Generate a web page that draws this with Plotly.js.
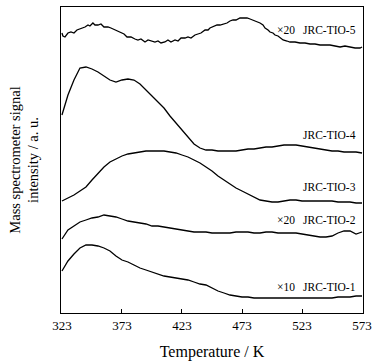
<!DOCTYPE html>
<html>
<head>
<meta charset="utf-8">
<script src="https://cdn.plot.ly/plotly-3.0.1.min.js"></script>
<style>html,body{margin:0;padding:0;background:#fff;}#chart{width:391px;height:363px;}</style>
</head>
<body>
<div id="chart"></div>
<script>
// Temperature grid (K)
const temperature = [323,328,333,338,343,348,353,358,363,368,373,378,383,388,393,398,403,408,413,418,423,428,433,438,443,448,453,458,463,468,473,478,483,488,493,498,503,508,513,518,523,528,533,538,543,548,553,558,563,568,573];
// Finer temperature points read for the noisy JRC-TIO-5 trace (K)
const temperature5 = [323,323.8,325.5,327.2,328,330.5,333,335.5,338,339.7,342.2,344.7,346.3,348.8,350.5,353,355.5,358,361.3,363.8,367.2,369.7,373,374.7,377.2,380.5,383.8,386.3,388.8,392.2,394.7,397.2,400.5,403,405.5,408.8,411.3,413.8,417.2,419.7,422.2,425.5,428,430.5,433.8,436.3,438.8,442.2,444.7,446.3,448.8,452.2,454.7,458,460.5,463,465.5,468,471.3,473.8,477.2,479.7,482.2,484.7,488,490.5,492.2,494.7,496.3,498.8,500.5,503,504.7,507.2,510.5,513,517.2,521.3,525.5,529.7,533.8,538,542.2,546.3,550.5,554.7,558.8,563,567.2,571.3,573];

// Signal intensities (a.u., curves offset vertically as in the figure)
const tio5 = [280,277,276,279,280,281,280,283,284,285,286,288,287,290,288,288,289,286,286,285,283,282,280,279,276,276,274,273,274,271,273,272,271,272,270,271,273,271,273,272,275,275,276,275,278,279,280,283,283,285,286,288,288,289,290,292,293,293,295,295,295,294,293,292,290,288,285,283,281,280,278,277,275,273,272,271,271,270,270,269,269,268,268,268,267,266,267,266,265,265,266];
const tio4 = [198,218,233,245,246,244,241,237,233,231,233,234,233,229,223,218,212,205,197,190,182,175,169,165,163,163,162,162,162,162,163,164,164,165,166,166,167,168,168,168,167,166,165,164,163,162,162,161,161,161,160];
const tio3 = [112,115,118,122,126,133,140,146,151,154,157,159,160,161,162,162,162,162,161,160,158,156,153,150,146,142,137,133,129,125,122,119,116,113,112,111,111,112,113,113,112,112,112,112,112,112,111,111,111,110,110];
const tio2 = [74,83,87,91,93,95,96,98,97,96,94,92,91,90,89,87,87,86,85,84,83,82,81,81,81,80,80,80,80,81,81,81,80,80,81,81,80,80,80,80,79,78,77,76,76,77,80,82,82,79,81];
const tio1 = [42,52,59,65,68,68,67,65,62,57,53,51,48,45,43,41,39,37,36,35,34,33,31,29,28,25,22,20,18,17,16,16,15,15,15,15,15,15,15,15,15,15,15,15,15,15,16,16,16,17,17];

const seriesNames = ['JRC-TIO-5','JRC-TIO-4','JRC-TIO-3','JRC-TIO-2','JRC-TIO-1'];
const seriesX = [temperature5, temperature, temperature, temperature, temperature];
const seriesData = [tio5, tio4, tio3, tio2, tio1];
const factors = ['×20', '', '', '×20', '×10'];
const labelY = [283, 178, 126, 93, 26];
const tickVals = [323,373,423,473,523,573];

const FONT = 'Liberation Serif, Times New Roman, serif';

const traces = seriesData.map((d, i) => ({
  x: seriesX[i], y: d, type: 'scatter', mode: 'lines', name: seriesNames[i],
  line: {color: '#000', width: 1.3, shape: 'linear'}, hoverinfo: 'skip'
}));

const annotations = [];
seriesNames.forEach((n, i) => {
  annotations.push({x: 570, y: labelY[i], xref: 'x', yref: 'y', text: n, showarrow: false,
    xanchor: 'right', yanchor: 'middle', font: {family: FONT, size: 11.5, color: '#000'}});
  if (factors[i]) {
    annotations.push({x: 519, y: labelY[i], xref: 'x', yref: 'y', text: factors[i], showarrow: false,
      xanchor: 'right', yanchor: 'middle', font: {family: FONT, size: 11.5, color: '#000'}});
  }
});

const layout = {
  width: 391, height: 363,
  margin: {l: 61, r: 28, t: 7, b: 50, pad: 0},
  paper_bgcolor: '#fff', plot_bgcolor: '#fff',
  showlegend: false,
  font: {family: FONT, color: '#000'},
  xaxis: {
    range: [322.2, 573.8], tickvals: tickVals, ticktext: tickVals.map(String),
    ticks: 'inside', ticklen: 4, tickcolor: '#000', tickwidth: 1,
    showline: true, linecolor: '#000', linewidth: 1, mirror: true,
    showgrid: false, zeroline: false,
    tickfont: {family: FONT, size: 13, color: '#000'},
    title: {text: 'Temperature / K', font: {family: FONT, size: 16, color: '#000'}, standoff: 14}
  },
  yaxis: {
    range: [0, 306], showticklabels: false, ticks: '',
    showline: true, linecolor: '#000', linewidth: 1, mirror: true,
    showgrid: false, zeroline: false,
    title: {text: 'Mass spectrometer signal<br>intensity / a. u.', font: {family: FONT, size: 14.5, color: '#000'}, standoff: 17}
  },
  annotations: annotations
};

Plotly.newPlot('chart', traces, layout, {staticPlot: true, displayModeBar: false});
</script>
</body>
</html>
